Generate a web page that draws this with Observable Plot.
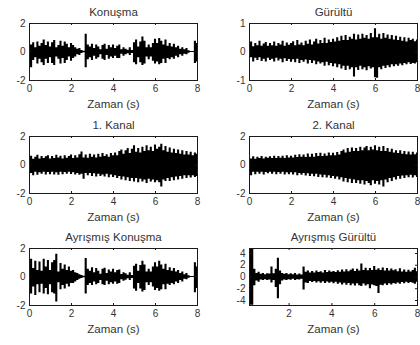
<!DOCTYPE html>
<html>
<head>
<meta charset="utf-8">
<script src="https://cdn.jsdelivr.net/npm/d3@7"></script>
<script src="https://cdn.jsdelivr.net/npm/@observablehq/plot@0.6"></script>
<style>
  html, body { margin: 0; padding: 0; background: #fff; overflow: hidden; }
  #wrap { position: relative; width: 420px; height: 345px; overflow: hidden; background: #fff; }
</style>
</head>
<body>
<div id="wrap"></div>
<script>
// Sample times (s), 0.1 s grid
const times = [0,0.1,0.2,0.3,0.4,0.5,0.6,0.7,0.8,0.9,1,1.1,1.2,1.3,1.4,1.5,1.6,1.7,1.8,1.9,2,2.1,2.2,2.3,2.4,2.5,2.6,2.7,2.8,2.9,3,3.1,3.2,3.3,3.4,3.5,3.6,3.7,3.8,3.9,4,4.1,4.2,4.3,4.4,4.5,4.6,4.7,4.8,4.9,5,5.1,5.2,5.3,5.4,5.5,5.6,5.7,5.8,5.9,6,6.1,6.2,6.3,6.4,6.5,6.6,6.7,6.8,6.9,7,7.1,7.2,7.3,7.4,7.5,7.6,7.7,7.8,7.9,8];

const titles = ["Konuşma", "Gürültü", "1. Kanal", "2. Kanal", "Ayrışmış Konuşma", "Ayrışmış Gürültü"];
const xLabel = "Zaman (s)";
const xTicksFull = [0, 2, 4, 6, 8];
const xTicksLast = [2, 4, 6, 8];
const yTicks2 = [-2, 0, 2];
const yTicks1 = [-1, 0, 1];
const yTicks4 = [-4, -2, 0, 2, 4];

// Upper / lower peaks of each waveform per 0.1 s
const konusmaHi = [0.75,0.5,0.65,0.3,0.7,0.4,0.6,0.85,0.45,0.7,0.35, 0.65,0.8,0.3,0.45,0.75,0.4,0.7,0.55,0.3,0.6, 0.45,0.3,0.2,0.25,0.1,0.05,1.25,0.5,0.35,0.55, 0.25,0.5,0.35,0.15,0.45,0.55,0.2,0.45,0.3,0.5, 0.25,0.4,0.5,0.15,0.3,0.2,0.12,0.3,0.1,0.65, 0.85,0.35,0.7,1.05,0.75,0.3,0.5,0.3,0.6,0.9, 0.6,0.95,0.75,0.5,0.85,0.4,0.6,0.35,0.55,0.3, 0.4,0.2,0.3,0.15,0.25,0.08,0.04,0.03,0.75,0.6];
const konusmaLo = [-0.95,-1.1,-0.6,-0.4,-0.85,-0.5,-0.75,-0.95,-0.5,-0.8,-0.4, -0.8,-0.95,-0.35,-0.5,-0.85,-0.45,-0.8,-0.6,-0.35,-0.65, -0.45,-0.35,-0.2,-0.25,-0.1,-0.05,-1.1,-0.55,-0.4,-0.6, -0.3,-0.5,-0.4,-0.2,-0.5,-0.6,-0.25,-0.5,-0.35,-0.45, -0.3,-0.45,-0.45,-0.15,-0.3,-0.2,-0.12,-0.25,-0.1,-0.75, -0.9,-0.4,-0.75,-0.95,-0.85,-0.35,-0.55,-0.35,-0.65,-0.85, -0.7,-0.9,-0.8,-0.5,-0.8,-0.45,-0.55,-0.4,-0.5,-0.3, -0.4,-0.2,-0.3,-0.15,-0.2,-0.08,-0.04,-0.03,-0.8,-0.7];

const gurultuHi = [0.25,0.35,0.18,0.3,0.22,0.38,0.2,0.28,0.33,0.2,0.3, 0.22,0.35,0.2,0.3,0.25,0.38,0.2,0.32,0.24,0.3, 0.36,0.22,0.4,0.25,0.32,0.22,0.38,0.27,0.42,0.25, 0.35,0.45,0.28,0.4,0.3,0.48,0.3,0.42,0.33,0.45, 0.35,0.5,0.38,0.55,0.4,0.58,0.4,0.52,0.45,0.62, 0.42,0.6,0.45,0.62,0.48,0.58,0.45,0.65,0.5,0.82, 0.5,0.62,0.45,0.65,0.48,0.6,0.45,0.58,0.42,0.55, 0.4,0.52,0.38,0.5,0.35,0.48,0.4,0.45,0.36,0.42];
const gurultuLo = [-0.28,-0.2,-0.35,-0.22,-0.3,-0.2,-0.33,-0.25,-0.35,-0.22,-0.3, -0.25,-0.35,-0.22,-0.32,-0.25,-0.38,-0.24,-0.33,-0.26,-0.36, -0.27,-0.38,-0.25,-0.4,-0.3,-0.36,-0.28,-0.42,-0.3,-0.4, -0.32,-0.45,-0.35,-0.42,-0.38,-0.5,-0.36,-0.48,-0.4,-0.52, -0.42,-0.55,-0.45,-0.6,-0.5,-0.65,-0.5,-0.62,-0.55,-0.88, -0.55,-0.65,-0.5,-0.62,-0.55,-0.66,-0.52,-0.6,-0.55,-0.9, -0.92,-0.55,-0.62,-0.5,-0.58,-0.48,-0.55,-0.45,-0.52,-0.45, -0.5,-0.42,-0.48,-0.4,-0.45,-0.38,-0.44,-0.4,-0.42,-0.38];

const kanal1Hi = [0.45,0.62,0.4,0.55,0.68,0.42,0.6,0.45,0.58,0.65,0.42, 0.6,0.45,0.68,0.5,0.62,0.42,0.65,0.48,0.6,0.7, 0.45,0.65,0.5,0.72,0.92,0.5,0.7,0.48,0.75,0.55, 0.7,0.5,0.75,0.55,0.8,0.6,0.72,0.55,0.8,0.65, 0.85,0.65,0.95,1.05,0.75,1.0,1.15,0.8,1.1,1.35, 0.9,1.15,0.85,1.25,0.95,1.35,1.0,1.25,0.95,1.4, 1.1,1.25,1.45,1.0,1.3,0.9,1.2,0.85,1.1,0.8, 1.05,0.75,1.0,0.7,0.95,0.7,0.9,0.65,0.85,0.75];
const kanal1Lo = [-0.85,-0.6,-0.75,-0.5,-0.72,-0.55,-0.65,-0.5,-0.7,-0.52,-0.68, -0.5,-0.7,-0.55,-0.72,-0.5,-0.68,-0.52,-0.65,-0.5,-0.66, -0.55,-0.7,-0.6,-0.72,-0.65,-1.0,-0.6,-0.75,-0.6,-0.8, -0.62,-0.85,-0.65,-0.8,-0.7,-0.85,-0.65,-0.9,-0.7,-0.88, -0.75,-0.95,-0.8,-1.05,-0.85,-1.1,-0.9,-1.15,-0.95,-1.2, -0.95,-1.25,-1.0,-1.2,-1.05,-1.3,-1.0,-1.2,-1.05,-1.25, -1.1,-1.25,-1.55,-1.05,-1.15,-0.95,-1.15,-0.9,-1.1,-0.85, -1.05,-0.8,-1.0,-0.75,-0.95,-0.75,-0.92,-0.75,-0.88,-0.8];

const kanal2Hi = [0.6,0.42,0.58,0.4,0.55,0.45,0.6,0.42,0.55,0.48,0.58, 0.45,0.62,0.45,0.6,0.48,0.62,0.45,0.65,0.5,0.62, 0.5,0.68,0.52,0.72,0.55,0.7,0.52,0.78,0.55,0.75, 0.55,0.8,0.6,0.82,0.6,0.78,0.62,0.85,0.65,0.82, 0.65,0.88,0.7,0.95,1.05,0.85,1.15,0.9,1.2,0.95, 1.15,0.95,1.25,1.0,1.2,1.3,1.0,1.25,1.05,1.35, 1.0,1.25,0.95,1.3,0.95,1.15,0.9,1.1,0.85,1.0, 0.8,1.0,0.75,0.95,0.72,0.92,0.7,0.9,0.72,0.85];
const kanal2Lo = [-0.55,-0.75,-0.5,-0.68,-0.5,-0.65,-0.5,-0.7,-0.52,-0.62,-0.5, -0.65,-0.5,-0.68,-0.52,-0.65,-0.5,-0.7,-0.55,-0.68,-0.55, -0.7,-0.55,-0.75,-0.6,-0.72,-0.6,-0.78,-0.62,-0.8,-0.65, -0.82,-0.65,-0.88,-0.7,-0.9,-0.72,-0.92,-0.75,-0.95,-0.8, -1.0,-0.85,-1.05,-0.9,-1.2,-0.95,-1.25,-1.0,-1.3,-1.05, -1.3,-1.1,-1.35,-1.1,-1.4,-1.15,-1.3,-1.45,-1.1,-1.35, -1.15,-1.4,-1.1,-1.55,-1.05,-1.25,-0.95,-1.15,-0.9,-1.05, -0.8,-1.0,-0.78,-0.95,-0.75,-0.9,-0.72,-0.92,-0.75,-0.88];

const ayrKonHi = [0.8,1.25,0.6,1.1,0.45,1.05,0.4,1.25,0.7,1.15,0.45, 1.0,1.15,1.6,0.35,0.95,0.55,0.85,0.45,0.7,0.4, 0.45,0.3,0.25,0.15,0.1,0.05,1.3,0.55,0.4,0.65, 0.3,0.6,0.4,0.2,0.55,0.62,0.25,0.5,0.35,0.55, 0.3,0.45,0.5,0.18,0.3,0.22,0.12,0.3,0.1,0.75, 0.9,0.4,0.8,1.1,0.85,0.35,0.55,0.35,0.7,1.0, 0.7,1.1,0.85,0.55,0.9,0.45,0.65,0.4,0.6,0.35, 0.45,0.25,0.35,0.15,0.25,0.08,0.04,0.03,1.0,0.7];
const ayrKonLo = [-1.0,-1.2,-0.7,-1.3,-0.55,-1.1,-0.5,-1.2,-0.8,-1.25,-0.55, -1.1,-1.2,-1.75,-0.4,-0.9,-0.6,-0.85,-0.5,-0.7,-0.45, -0.45,-0.35,-0.25,-0.15,-0.1,-0.05,-1.2,-0.6,-0.45,-0.6, -0.35,-0.55,-0.45,-0.25,-0.55,-0.6,-0.3,-0.55,-0.4,-0.5, -0.35,-0.5,-0.45,-0.2,-0.3,-0.22,-0.12,-0.25,-0.1,-0.85, -1.0,-0.45,-0.85,-1.05,-0.95,-0.4,-0.6,-0.4,-0.7,-0.95, -0.8,-1.0,-0.9,-0.55,-0.9,-0.5,-0.6,-0.45,-0.55,-0.35, -0.45,-0.25,-0.35,-0.15,-0.2,-0.08,-0.04,-0.03,-1.1,-0.8];

const ayrGurHi = [4.8,4.8,4.8,4.8,1.3,0.6,0.8,0.45,0.6,0.4,0.55, 0.5,1.7,0.55,1.3,3.2,1.0,0.6,0.45,0.6,0.4, 0.55,0.4,0.6,0.35,0.5,0.35,1.7,0.8,1.0,0.7, 0.95,0.7,1.0,0.75,0.9,0.7,1.1,0.75,1.0,0.8, 0.95,0.75,1.05,0.8,1.2,0.85,1.25,0.9,1.15,1.35, 0.95,1.3,1.0,2.2,1.1,1.5,1.05,1.45,1.1,1.8, 1.15,1.4,1.1,1.55,1.0,1.45,1.0,1.35,1.05,1.25, 0.9,1.4,0.85,1.2,0.8,1.15,0.85,1.1,1.5,0.9];
const ayrGurLo = [-4.8,-4.8,-4.8,-4.8,-1.5,-0.7,-0.9,-0.5,-0.6,-0.45,-0.6, -0.5,-1.0,-0.6,-1.8,-3.7,-1.3,-0.7,-0.5,-0.6,-0.45, -0.55,-0.4,-0.6,-0.45,-0.5,-0.4,-2.2,-1.0,-1.1,-0.75, -0.95,-0.75,-1.0,-0.8,-1.05,-0.8,-1.1,-0.85,-1.05,-0.9, -1.15,-0.9,-1.25,-1.0,-1.35,-1.05,-1.4,-1.1,-1.5,-1.2, -1.55,-1.15,-1.5,-1.6,-1.2,-1.55,-1.3,-2.0,-1.35,-1.5, -1.6,-2.8,-1.4,-1.5,-1.2,-1.45,-1.15,-1.35,-1.1,-1.25, -1.0,-1.25,-0.95,-1.15,-0.9,-1.1,-0.95,-1.05,-1.25,-0.9];

const FONT = "'Liberation Sans', Arial, Helvetica, sans-serif";
const INK = "#1a1a1a";
const TXT = "#333";

function panel({left, top, title, hi, lo, xdom, ydom, xticks, yticks}) {
  const data = times.map((t, i) => ({t, hi: hi[i], lo: lo[i]}));
  const tyLen = (ydom[1] - ydom[0]) * 0.035;
  const txLen = (xdom[1] - xdom[0]) * 0.012;
  const fmt = d => String(d);
  const svg = Plot.plot({
    width: 200, height: 115,
    marginLeft: 29, marginRight: 3, marginTop: 23, marginBottom: 35,
    style: {fontFamily: FONT, fontSize: "10px", background: "transparent", overflow: "visible", color: TXT},
    x: {domain: xdom, ticks: xticks, tickSize: 0, tickPadding: 4, tickFormat: fmt, label: null},
    y: {domain: ydom, ticks: yticks, tickSize: 0, tickPadding: 4, tickFormat: fmt, label: null},
    marks: [
      Plot.areaY(data, {x: "t", y1: "lo", y2: "hi", curve: "step", fill: "#000", clip: true}),
      Plot.ruleX(xticks, {x: d => d, y1: ydom[0], y2: ydom[0] + tyLen, stroke: INK}),
      Plot.ruleX(xticks, {x: d => d, y1: ydom[1], y2: ydom[1] - tyLen, stroke: INK}),
      Plot.ruleY(yticks, {y: d => d, x1: xdom[0], x2: xdom[0] + txLen, stroke: INK}),
      Plot.ruleY(yticks, {y: d => d, x1: xdom[1], x2: xdom[1] - txLen, stroke: INK}),
      Plot.frame({stroke: INK}),
      Plot.text([title], {text: d => d, frameAnchor: "top", lineAnchor: "bottom", dy: -8, fontSize: 11.5, fill: TXT}),
      Plot.text([xLabel], {text: d => d, frameAnchor: "bottom", lineAnchor: "top", dy: 19.5, fontSize: 11.5, fill: TXT})
    ]
  });
  svg.style.position = "absolute";
  svg.style.left = left + "px";
  svg.style.top = top + "px";
  document.getElementById("wrap").appendChild(svg);
}

panel({left: 0,   top: 0,   title: titles[0], hi: konusmaHi, lo: konusmaLo, xdom: [0, 8], ydom: [-2, 2], xticks: xTicksFull, yticks: yTicks2});
panel({left: 220, top: 0,   title: titles[1], hi: gurultuHi, lo: gurultuLo, xdom: [0, 8], ydom: [-1, 1], xticks: xTicksFull, yticks: yTicks1});
panel({left: 0,   top: 113, title: titles[2], hi: kanal1Hi, lo: kanal1Lo, xdom: [0, 8], ydom: [-2, 2], xticks: xTicksFull, yticks: yTicks2});
panel({left: 220, top: 113, title: titles[3], hi: kanal2Hi, lo: kanal2Lo, xdom: [0, 8], ydom: [-2, 2], xticks: xTicksFull, yticks: yTicks2});
panel({left: 0,   top: 225, title: titles[4], hi: ayrKonHi, lo: ayrKonLo, xdom: [0, 8], ydom: [-2, 2], xticks: xTicksFull, yticks: yTicks2});
panel({left: 220, top: 225, title: titles[5], hi: ayrGurHi, lo: ayrGurLo, xdom: [0.15, 8], ydom: [-4.85, 4.85], xticks: xTicksLast, yticks: yTicks4});
</script>
</body>
</html>
